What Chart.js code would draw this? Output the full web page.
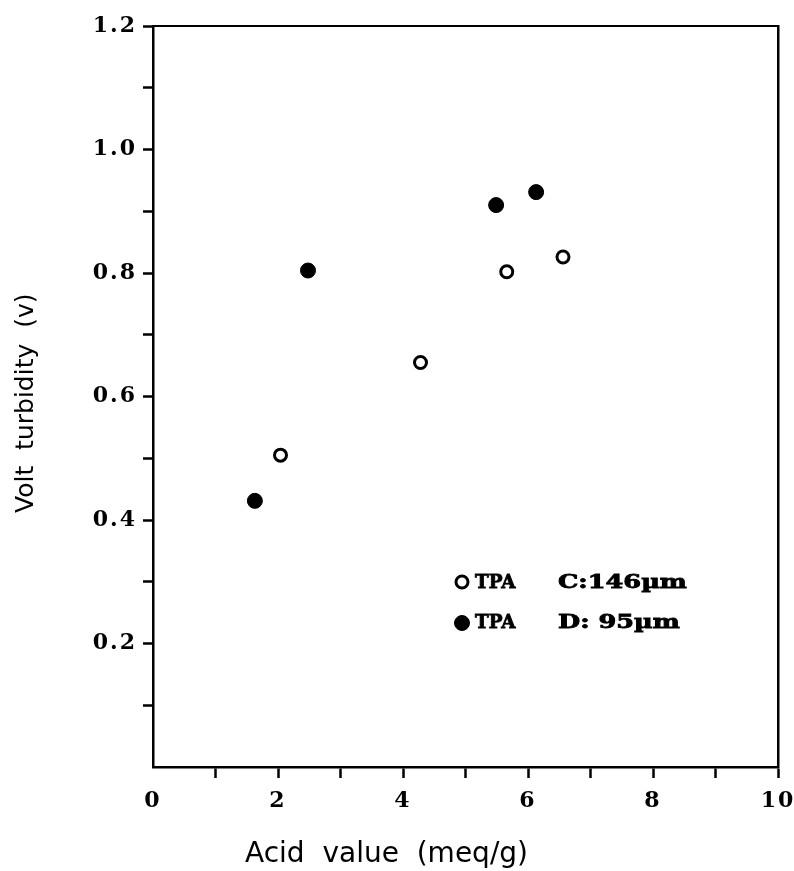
<!DOCTYPE html>
<html>
<head>
<meta charset="utf-8">
<script src="https://cdn.jsdelivr.net/npm/chart.js@4"></script>
<style>
  html, body { margin: 0; padding: 0; background: #fff; }
  canvas { display: block; }
</style>
</head>
<body>
<canvas id="c" width="794" height="871"></canvas>
<script>
// ---- data ----
const acidC = [2.04, 4.28, 5.66, 6.56];
const voltC = [0.505, 0.655, 0.802, 0.826];
const acidD = [1.63, 2.48, 5.49, 6.13];
const voltD = [0.431, 0.804, 0.910, 0.931];
const seriesNames = ['TPA  C:146µm', 'TPA  D: 95µm'];
const xTitle = 'Acid  value  (meq/g)';
const yTitle = 'Volt  turbidity  (v)';
const xRange = [0, 10];
const yRange = [0, 1.2];

const W = 794, H = 871;
const AREA = { left: 153, right: 778, top: 26, bottom: 767 };
const INK = '#000';

const tickFont = { family: 'DejaVu Serif', weight: 'bold', size: 22 };

const decorPlugin = {
  id: 'decor',
  beforeDraw(chart) {
    chart.ctx.letterSpacing = '2px';
  },
  afterDraw(chart) {
    const ctx = chart.ctx;
    ctx.save();
    ctx.letterSpacing = '0px';
    ctx.fillStyle = INK;
    // x title
    ctx.font = '28px "DejaVu Sans"';
    ctx.textAlign = 'left';
    ctx.textBaseline = 'alphabetic';
    ctx.fillText(xTitle, 245, 862);
    // y title (rotated)
    ctx.save();
    ctx.translate(33, 513);
    ctx.rotate(-Math.PI / 2);
    ctx.font = '25px "DejaVu Sans"';
    ctx.fillText(yTitle, 0, 0);
    ctx.restore();

    // legend
    const rows = [
      { ds: chart.data.datasets[0], y: 588, my: 582 },
      { ds: chart.data.datasets[1], y: 628, my: 623 }
    ];
    rows.forEach((r, i) => {
      const ds = r.ds;
      ctx.beginPath();
      ctx.arc(462, r.my, ds.pointRadius, 0, Math.PI * 2);
      ctx.fillStyle = ds.backgroundColor;
      ctx.fill();
      ctx.lineWidth = ds.borderWidth;
      ctx.strokeStyle = ds.borderColor;
      ctx.stroke();
      const parts = seriesNames[i].split('  ');
      const pieces = [[parts[0], 475, 1.02], [parts[1], 558, 1.42]];
      pieces.forEach(([txt, px, sx]) => {
        ctx.save();
        ctx.font = 'bold 18px "DejaVu Serif"';
        ctx.fillStyle = INK;
        ctx.strokeStyle = INK;
        ctx.lineWidth = 0.8;
        ctx.textAlign = 'left';
        ctx.translate(px, r.y);
        ctx.scale(sx, 1);
        ctx.fillText(txt, 0, 0);
        ctx.strokeText(txt, 0, 0);
        ctx.restore();
      });
    });
    ctx.restore();
  }
};

const tickColorFn = (c) => (c.tick && c.tick.value === 0 ? 'rgba(0,0,0,0)' : INK);

new Chart(document.getElementById('c'), {
  type: 'scatter',
  data: {
    datasets: [
      {
        label: seriesNames[0],
        data: acidC.map((x, i) => ({ x, y: voltC[i] })),
        pointStyle: 'circle',
        pointRadius: 6,
        pointHoverRadius: 6,
        borderWidth: 3,
        borderColor: INK,
        backgroundColor: '#fff'
      },
      {
        label: seriesNames[1],
        data: acidD.map((x, i) => ({ x, y: voltD[i] })),
        pointStyle: 'circle',
        pointRadius: 7.5,
        pointHoverRadius: 7.5,
        borderWidth: 1,
        borderColor: INK,
        backgroundColor: INK
      }
    ]
  },
  options: {
    responsive: false,
    animation: false,
    devicePixelRatio: 1,
    layout: { padding: 0 },
    plugins: {
      legend: { display: false },
      tooltip: { enabled: false },
      title: { display: false }
    },
    scales: {
      x: {
        type: 'linear',
        position: 'bottom',
        min: xRange[0], max: xRange[1],
        afterFit: (s) => { s.height = H - AREA.bottom; s.paddingLeft = 0; s.paddingRight = 0; },
        border: { color: INK, width: 2.5 },
        grid: { drawOnChartArea: false, drawTicks: true, tickLength: 11, tickWidth: 2.5, tickColor: tickColorFn },
        ticks: {
          stepSize: 1,
          autoSkip: false,
          maxRotation: 0,
          color: INK,
          font: tickFont,
          padding: 10,
          callback: (v) => (Math.round(v) % 2 === 0 ? String(Math.round(v)) : '')
        }
      },
      x2: {
        type: 'linear',
        position: 'top',
        display: true,
        min: xRange[0], max: xRange[1],
        afterFit: (s) => { s.height = AREA.top; s.paddingLeft = 0; s.paddingRight = 0; },
        border: { color: INK, width: 2, dash: [10, 4] },
        grid: { display: false, drawTicks: false },
        ticks: { display: false }
      },
      y: {
        type: 'linear',
        position: 'left',
        min: yRange[0], max: yRange[1],
        afterFit: (s) => { s.width = AREA.left; s.paddingTop = 0; s.paddingBottom = 0; },
        border: { color: INK, width: 2.5 },
        grid: { drawOnChartArea: false, drawTicks: true, tickLength: 10, tickWidth: 2.5, tickColor: tickColorFn },
        ticks: {
          stepSize: 0.1,
          autoSkip: false,
          color: INK,
          font: tickFont,
          padding: 6,
          callback: (v) => {
            const k = Math.round(v * 10);
            return (k > 0 && k % 2 === 0) ? (k / 10).toFixed(1) : '';
          }
        }
      },
      y2: {
        type: 'linear',
        position: 'right',
        display: true,
        min: yRange[0], max: yRange[1],
        afterFit: (s) => { s.width = W - AREA.right; s.paddingTop = 0; s.paddingBottom = 0; },
        border: { color: INK, width: 2.5, dash: [14, 4] },
        grid: { display: false, drawTicks: false },
        ticks: { display: false }
      }
    }
  },
  plugins: [decorPlugin]
});
</script>
</body>
</html>
